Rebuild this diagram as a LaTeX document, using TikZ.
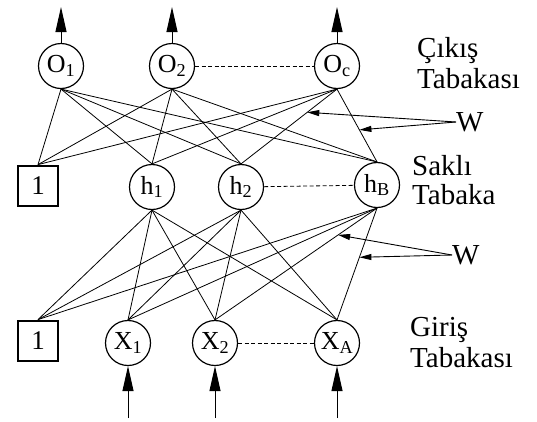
\documentclass[tikz,border=0pt]{standalone}
\usepackage{fontspec}
\setmainfont{Liberation Serif}
\usetikzlibrary{arrows.meta}
\begin{document}
\begin{tikzpicture}[x=1pt,y=-1pt,
  neuron/.style={circle,draw,line width=1.2pt,minimum size=45pt,inner sep=0pt,
    font=\fontsize{26}{28}\selectfont},
  biasbox/.style={rectangle,draw,line width=2.8pt,minimum size=40pt,inner sep=0pt,
    font=\fontsize{27}{28}\selectfont},
  link/.style={line width=0.8pt},
  layertext/.style={anchor=base west,inner sep=0pt,font=\fontsize{29}{29}\selectfont},
  flow/.style={line width=1pt,-{Triangle[length=25pt,width=11pt]}},
  wpoint/.style={line width=0.9pt,-{Triangle[length=12pt,width=6pt]}},
  gap/.style={line width=0.8pt,dash pattern=on 4pt off 2.5pt}]
\useasboundingbox (0,0) rectangle (537,421);

% output layer
\node[neuron] (o1) at (61,66)  {O\textsubscript{1}};
\node[neuron] (o2) at (172,66) {O\textsubscript{2}};
\node[neuron] (oc) at (337,66) {O\textsubscript{c}};

% hidden layer
\node[biasbox] (hb0) at (38,186) {1};
\node[neuron] (h1) at (152,187) {h\textsubscript{1}};
\node[neuron] (h2) at (241,187) {h\textsubscript{2}};
\node[neuron] (hB) at (377,185) {h\textsubscript{B}};

% input layer
\node[biasbox] (ib0) at (38,341) {1};
\node[neuron] (x1) at (128,343) {X\textsubscript{1}};
\node[neuron] (x2) at (215,343) {X\textsubscript{2}};
\node[neuron] (xA) at (337,343) {X\textsubscript{A}};

% gaps between nodes of a layer
\draw[gap] (o2) -- (oc);
\draw[gap] (h2) -- (hB);
\draw[gap] (x2) -- (xA);

% hidden -> output weights
\foreach \o in {o1,o2,oc}
  \foreach \h in {hb0,h1,h2,hB}
    \draw[link] (\o.south) -- (\h.north);

% input -> hidden weights
\foreach \h in {h1,h2,hB}
  \foreach \i in {ib0,x1,x2,xA}
    \draw[link] (\h.south) -- (\i.north);

% outputs and inputs
\coordinate (out1) at (61,7);
\coordinate (out2) at (172,7);
\coordinate (outc) at (337,7);
\draw[flow] (o1.north) -- (out1);
\draw[flow] (o2.north) -- (out2);
\draw[flow] (oc.north) -- (outc);
\coordinate (in1) at (128,418);
\coordinate (in2) at (215,418);
\coordinate (inA) at (337,418);
\draw[flow] (in1) -- (x1.south);
\draw[flow] (in2) -- (x2.south);
\draw[flow] (inA) -- (xA.south);

% weight markers
\path (oc.south) -- (h2.north) coordinate[pos=0.31] (wu1);
\path (oc.south) -- (hB.north) coordinate[pos=0.56] (wu2);
\path (hB.south) -- (x2.north) coordinate[pos=0.24] (wl1);
\path (hB.south) -- (xA.north) coordinate[pos=0.44] (wl2);

\node[layertext,anchor=west] (wup) at (456,122) {W};
\node[layertext,anchor=west] (wlo) at (452,255) {W};
\draw[wpoint] (wup.west) -- (wu1);
\draw[wpoint] (wup.west) -- (wu2);
\draw[wpoint] (wlo.west) -- (wl1);
\draw[wpoint] (wlo.west) -- (wl2);

% layer names
\node[layertext] (c1) at (417,57)  {Çıkış};
\node[layertext] (c2) at (417,88)  {Tabakası};
\node[layertext] (s1) at (412,175) {Saklı};
\node[layertext] (s2) at (412,204) {Tabaka};
\node[layertext] (g1) at (410,336) {Giriş};
\node[layertext] (g2) at (410,367) {Tabakası};
\end{tikzpicture}
\end{document}
